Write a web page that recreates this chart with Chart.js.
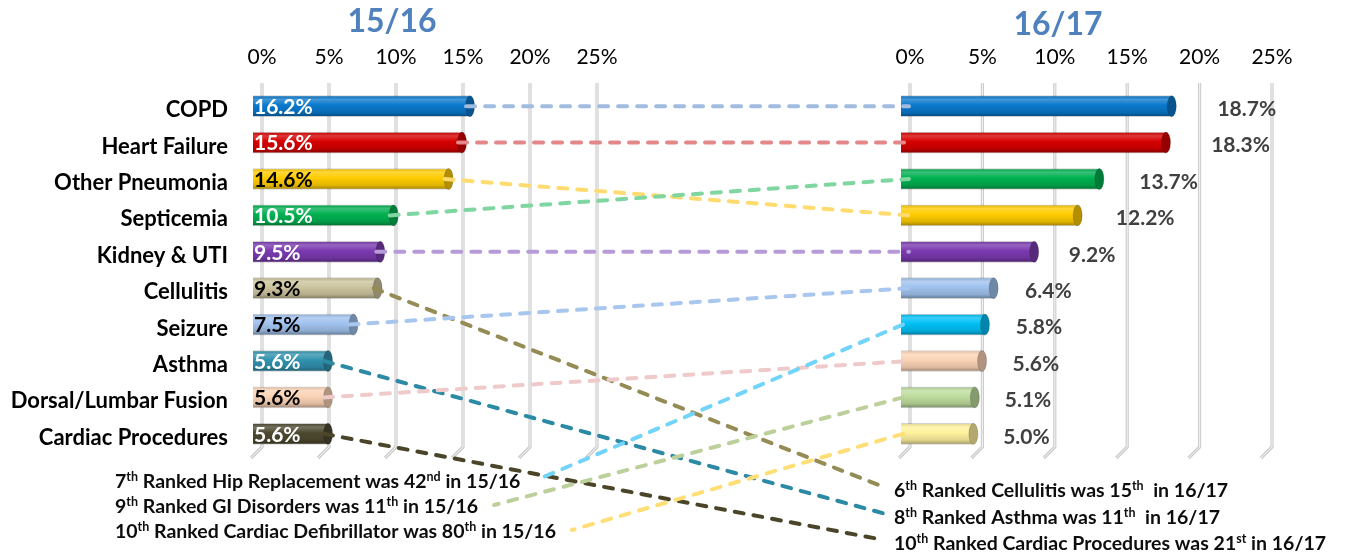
<!DOCTYPE html>
<html><head><meta charset="utf-8">
<script src="https://cdn.jsdelivr.net/npm/chart.js@4.4.1/dist/chart.umd.min.js"></script>
<style>
html,body{margin:0;padding:0;background:#fff;}
#wrap{position:relative;width:1346px;height:556px;overflow:hidden;}
#wrap canvas{position:absolute;left:0;top:0;}
</style></head><body>
<div id="wrap"><canvas id="c1" width="1346" height="556"></canvas><canvas id="c2" width="1346" height="556"></canvas></div>
<script>
// ---- data ----
const leftCategories = ['COPD','Heart Failure','Other Pneumonia','Septicemia','Kidney & UTI','Cellulitis','Seizure','Asthma','Dorsal/Lumbar Fusion','Cardiac Procedures'];
const leftValues = [16.2, 15.6, 14.6, 10.5, 9.5, 9.3, 7.5, 5.6, 5.6, 5.6];
const rightCategories = ['COPD','Heart Failure','Septicemia','Other Pneumonia','Kidney & UTI','Seizure','Hip Replacement','Dorsal/Lumbar Fusion','GI Disorders','Cardiac Defibrillator'];
const rightValues = [18.7, 18.3, 13.7, 12.2, 9.2, 6.4, 5.8, 5.6, 5.1, 5.0];
const tickValues = [0, 5, 10, 15, 20, 25];
const periodTitles = ['15/16', '16/17'];
const leftNotes = ['7{th} Ranked Hip Replacement was 42{nd} in 15/16', '9{th} Ranked GI Disorders was 11{th} in 15/16', '10{th} Ranked Cardiac Defibrillator was 80{th} in 15/16'];
const leftNoteFor = ['Hip Replacement', 'GI Disorders', 'Cardiac Defibrillator'];
const rightNotes = ['6{th} Ranked Cellulitis was 15{th}  in 16/17', '8{th} Ranked Asthma was 11{th}  in 16/17', '10{th} Ranked Cardiac Procedures was 21{st} in 16/17'];
const rightNoteFor = ['Cellulitis', 'Asthma', 'Cardiac Procedures'];

// ---- styles ----
const barColor = {
  'COPD':'#0A78CC','Heart Failure':'#D60000','Other Pneumonia':'#FFCC00','Septicemia':'#00B050',
  'Kidney & UTI':'#7B3AB0','Cellulitis':'#CCC49E','Seizure':'#A0C2EE','Asthma':'#3192AE',
  'Dorsal/Lumbar Fusion':'#FBD3B6','Cardiac Procedures':'#4D4930','Hip Replacement':'#00C0F5',
  'GI Disorders':'#BEDD9E','Cardiac Defibrillator':'#FFF29E'
};
const lineColor = {
  'COPD':'#A2BCE0','Heart Failure':'#E3878A','Other Pneumonia':'#FFDB70','Septicemia':'#7FD6A0',
  'Kidney & UTI':'#B79BD9','Cellulitis':'#958B55','Seizure':'#A8C6EE','Asthma':'#2C8AA5',
  'Dorsal/Lumbar Fusion':'#EFCACA','Cardiac Procedures':'#4A4529','Hip Replacement':'#72D4F8',
  'GI Disorders':'#BDD09C','Cardiac Defibrillator':'#FFDE75'
};
const insideLabelColor = {
  'COPD':'#ffffff','Heart Failure':'#ffffff','Other Pneumonia':'#000000','Septicemia':'#ffffff',
  'Kidney & UTI':'#ffffff','Cellulitis':'#000000','Seizure':'#000000','Asthma':'#ffffff',
  'Dorsal/Lumbar Fusion':'#000000','Cardiac Procedures':'#ffffff'
};
const BAR_H = 21;
const DEPTH = 9;
const FONT = 'Lato';

function rgb(h){ return [1,3,5].map(i=>parseInt(h.slice(i,i+2),16)); }
function mix(h, t, a){ const c=rgb(h), d=rgb(t); return 'rgb('+c.map((v,i)=>Math.round(v+(d[i]-v)*a)).join(',')+')'; }

function cylFill(cats){
  return (c) => {
    if (c.type !== 'data') return '#888';
    const base = barColor[cats[c.dataIndex]];
    const ys = c.chart.scales.y;
    if (!ys || !c.chart.chartArea) return base;
    const y = ys.getPixelForValue(c.dataIndex);
    const g = c.chart.ctx.createLinearGradient(0, y - BAR_H/2, 0, y + BAR_H/2);
    g.addColorStop(0, mix(base, '#000000', 0.12));
    g.addColorStop(0.18, mix(base, '#ffffff', 0.22));
    g.addColorStop(0.45, base);
    g.addColorStop(0.8, mix(base, '#000000', 0.12));
    g.addColorStop(1, mix(base, '#000000', 0.38));
    return g;
  };
}

const grid3d = {
  id: 'grid3d',
  beforeDatasetsDraw(chart) {
    const {ctx, chartArea, scales:{x}} = chart;
    ctx.save();
    tickValues.forEach(v => {
      const xf = x.getPixelForValue(v), xb = xf + DEPTH;
      ctx.beginPath();
      ctx.moveTo(xb, chartArea.top - 5);
      ctx.lineTo(xb, chartArea.bottom - 5);
      ctx.lineTo(xf - 2, chartArea.bottom + 6);
      ctx.strokeStyle = '#cdcdcd'; ctx.lineWidth = 3.2; ctx.stroke();
      ctx.strokeStyle = '#f3f3f3'; ctx.lineWidth = 1; ctx.stroke();
    });
    ctx.restore();
  }
};

const barDecor = {
  id: 'barDecor',
  afterDatasetsDraw(chart, args, opts) {
    const ctx = chart.ctx;
    const cats = chart.data.labels;
    const vals = chart.data.datasets[0].data;
    const meta = chart.getDatasetMeta(0);
    ctx.save();
    meta.data.forEach((bar, i) => {
      const base = barColor[cats[i]];
      ctx.beginPath();
      ctx.ellipse(bar.x, bar.y, 4.5, BAR_H/2, 0, 0, Math.PI*2);
      ctx.fillStyle = mix(base, '#000000', 0.3);
      ctx.fill();
      ctx.strokeStyle = 'rgba(0,0,0,0.15)'; ctx.lineWidth = 1; ctx.stroke();
    });
    ctx.beginPath();
    ctx.rect(chart.chartArea.left - 1, 0, chart.width, chart.height);
    ctx.clip();
    ctx.font = 'bold 21px ' + FONT;
    ctx.textBaseline = 'middle';
    ctx.textAlign = 'left';
    meta.data.forEach((bar, i) => {
      const txt = Number(vals[i]).toFixed(1) + '%';
      if (opts.inside) {
        ctx.fillStyle = insideLabelColor[cats[i]];
        ctx.fillText(txt, bar.base + 1, bar.y + 1);
      } else {
        ctx.fillStyle = '#404040';
        ctx.fillText(txt, bar.x + 24 + 0.08 * (bar.x - bar.base), bar.y + 3);
      }
    });
    ctx.restore();
  }
};

const periodTitle = {
  id: 'periodTitle',
  afterDraw(chart, args, opts) {
    const ctx = chart.ctx;
    ctx.save();
    ctx.font = 'bold 32px ' + FONT;
    ctx.fillStyle = '#4F81BD';
    ctx.textAlign = 'center';
    ctx.textBaseline = 'middle';
    ctx.fillText(opts.text, opts.x, opts.y);
    ctx.restore();
  }
};

function drawRich(ctx, str, x, y) {
  const parts = str.split(/(\{[^}]*\})/).filter(s => s.length);
  let cx = x;
  ctx.textAlign = 'left';
  ctx.textBaseline = 'alphabetic';
  parts.forEach(p => {
    const sup = p[0] === '{';
    const t = sup ? p.slice(1, -1) : p;
    ctx.font = sup ? 'bold 12.5px ' + FONT : 'bold 19.5px ' + FONT;
    ctx.fillText(t, cx, sup ? y - 7 : y);
    cx += ctx.measureText(t).width;
  });
  return cx;
}

function dashed(ctx, color, x1, y1, x2, y2) {
  ctx.beginPath();
  ctx.moveTo(x1, y1); ctx.lineTo(x2, y2);
  ctx.strokeStyle = color;
  ctx.lineWidth = 4;
  ctx.lineCap = 'round';
  ctx.setLineDash([9, 10]);
  ctx.stroke();
}

function axisX() {
  return {
    position: 'top', min: 0, max: 25,
    afterBuildTicks(s) { s.ticks = tickValues.map(v => ({value: v})); },
    afterFit(s) { s.height = 43; },
    ticks: { callback: v => v + '%', labelOffset: DEPTH, padding: 18, maxRotation: 0,
             font: {family: FONT, size: 21}, color: '#000' },
    grid: { display: false, drawTicks: false },
    border: { display: false }
  };
}

const chart1 = new Chart(document.getElementById('c1'), {
  type: 'bar',
  data: { labels: leftCategories, datasets: [{ data: leftValues, backgroundColor: cylFill(leftCategories),
    borderColor: 'rgba(0,0,0,0.18)', borderWidth: 1, barThickness: BAR_H }] },
  options: {
    indexAxis: 'y', responsive: false, animation: false, devicePixelRatio: 1,
    layout: { padding: { left: 0, right: 1346 - 588, top: 45, bottom: 556 - 452 } },
    plugins: { legend: {display: false}, tooltip: {enabled: false},
      barDecor: { inside: true }, periodTitle: { text: periodTitles[0], x: 392, y: 22 } },
    scales: {
      x: axisX(),
      y: { afterFit(s) { s.width = 253; },
           ticks: { padding: 25, labelOffset: 4, font: {family: FONT, size: 22, weight: 'bold'}, color: '#000' },
           grid: { display: false, drawTicks: false }, border: { display: false } }
    }
  },
  plugins: [grid3d, barDecor, periodTitle]
});

const connectors = {
  id: 'connectors',
  afterDraw(chart) {
    const ctx = chart.ctx;
    const m1 = chart1.getDatasetMeta(0).data;
    const m2 = chart.getDatasetMeta(0).data;
    ctx.save();
    ctx.fillStyle = '#0d0d0d';
    const leftEnds = leftNotes.map((s, k) => drawRich(ctx, s, 115, 488 + k * 25));
    rightNotes.forEach((s, k) => drawRich(ctx, s, 894, 497 + k * 26.5));
    leftCategories.forEach((name, i) => {
      const a = m1[i];
      const j = rightCategories.indexOf(name);
      if (j >= 0) {
        dashed(ctx, lineColor[name], a.x - 4, a.y, m2[j].base + 8, m2[j].y);
      } else {
        const k = rightNoteFor.indexOf(name);
        dashed(ctx, lineColor[name], a.x - 4, a.y, 884, 497 + k * 26.5 - 10);
      }
    });
    rightCategories.forEach((name, j) => {
      if (leftCategories.indexOf(name) >= 0) return;
      const k = leftNoteFor.indexOf(name);
      const b = m2[j];
      dashed(ctx, lineColor[name], b.base + 2, b.y, leftEnds[k] + 16, 488 + k * 25 - 8);
    });
    ctx.restore();
  }
};

const chart2 = new Chart(document.getElementById('c2'), {
  type: 'bar',
  data: { labels: rightCategories, datasets: [{ data: rightValues, backgroundColor: cylFill(rightCategories),
    borderColor: 'rgba(0,0,0,0.18)', borderWidth: 1, barThickness: BAR_H }] },
  options: {
    indexAxis: 'y', responsive: false, animation: false, devicePixelRatio: 1,
    layout: { padding: { left: 901, right: 1346 - 1263, top: 45, bottom: 556 - 452 } },
    plugins: { legend: {display: false}, tooltip: {enabled: false},
      barDecor: { inside: false }, periodTitle: { text: periodTitles[1], x: 1058, y: 25 } },
    scales: {
      x: axisX(),
      y: { display: false }
    }
  },
  plugins: [grid3d, barDecor, periodTitle, connectors]
});
</script>
</body></html>
